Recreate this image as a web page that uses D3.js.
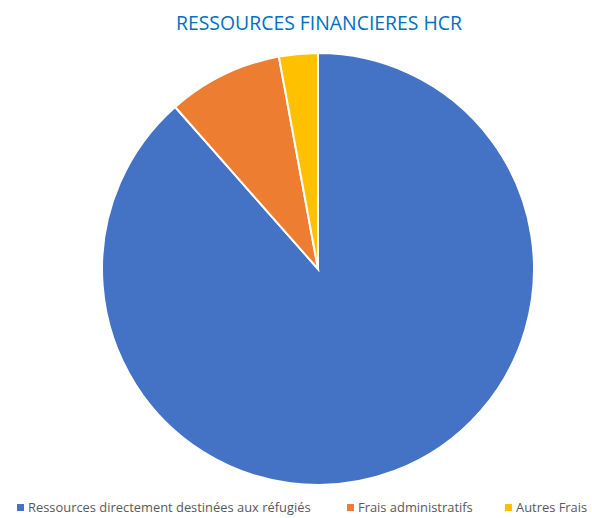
<!DOCTYPE html>
<html><head><meta charset="utf-8">
<script src="https://cdn.jsdelivr.net/npm/d3@7"></script>
<style>body{margin:0;background:#fff;}svg{display:block;}</style>
</head><body>
<script>
const categories = ["Ressources directement destinées aux réfugiés", "Frais administratifs", "Autres Frais"];
const values = [88.5, 8.6, 2.9];
const colors = ["#4472C4", "#ED7D31", "#FFC000"];
const title = "RESSOURCES FINANCIERES HCR";

const W = 592, H = 518;
const svg = d3.select("body").append("svg").attr("width", W).attr("height", H);

svg.append("text").attr("x", 319).attr("y", 30).attr("text-anchor", "middle")
  .attr("font-family", "'Open Sans', sans-serif").attr("font-size", 19.4)
  .attr("fill", "#0070C0").text(title);

const pie = d3.pie().sort(null).value(d => d)(values);
const arc = d3.arc().innerRadius(0).outerRadius(216);
const g = svg.append("g").attr("transform", "translate(318,269)");
g.selectAll("path").data(pie).join("path")
  .attr("d", arc).attr("fill", (d, i) => colors[i])
  .attr("stroke", "#fff").attr("stroke-width", 2);

const legendX = [17, 347, 505];
const lg = svg.append("g");
categories.forEach((c, i) => {
  lg.append("rect").attr("x", legendX[i]).attr("y", 504).attr("width", 7).attr("height", 7).attr("fill", colors[i]);
  lg.append("text").attr("x", legendX[i] + 11).attr("y", 512)
    .attr("font-family", "'Open Sans', sans-serif").attr("font-size", 12.9)
    .attr("fill", "#595959").text(c);
});
</script>
</body></html>
